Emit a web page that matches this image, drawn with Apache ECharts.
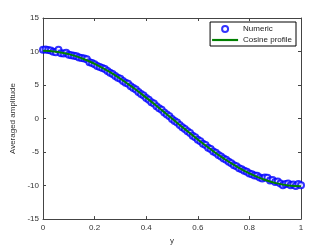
<!DOCTYPE html>
<html><head><meta charset="utf-8">
<script src="https://cdn.jsdelivr.net/npm/echarts@6/dist/echarts.min.js"></script>
<style>html,body{margin:0;padding:0;background:#fff}#c{width:332px;height:250px}</style>
</head><body><div id="c"></div>
<script>
const xTicks = [0, 0.2, 0.4, 0.6, 0.8, 1];
const yTicks = [-15, -10, -5, 0, 5, 10, 15];
const numericX = [0,0.01,0.02,0.03,0.04,0.05,0.06,0.07,0.08,0.09,0.10,0.11,0.12,0.13,0.14,0.15,0.16,0.17,0.18,0.19,0.20,0.21,0.22,0.23,0.24,0.25,0.26,0.27,0.28,0.29,0.30,0.31,0.32,0.33,0.34,0.35,0.36,0.37,0.38,0.39,0.40,0.41,0.42,0.43,0.44,0.45,0.46,0.47,0.48,0.49,0.50,0.51,0.52,0.53,0.54,0.55,0.56,0.57,0.58,0.59,0.60,0.61,0.62,0.63,0.64,0.65,0.66,0.67,0.68,0.69,0.70,0.71,0.72,0.73,0.74,0.75,0.76,0.77,0.78,0.79,0.80,0.81,0.82,0.83,0.84,0.85,0.86,0.87,0.88,0.89,0.90,0.91,0.92,0.93,0.94,0.95,0.96,0.97,0.98,0.99,1.00];
const numericY = [10.25,10.30,10.22,10.15,9.95,9.90,10.25,9.75,9.70,9.82,9.50,9.45,9.35,9.30,9.10,9.05,8.95,8.85,8.40,8.30,8.10,7.85,7.70,7.55,7.40,7.10,6.85,6.65,6.35,6.10,5.95,5.60,5.35,5.20,4.80,4.55,4.35,3.95,3.65,3.45,3.05,2.80,2.45,2.25,1.85,1.55,1.30,0.90,0.60,0.35,-0.05,-0.35,-0.60,-0.95,-1.30,-1.55,-1.90,-2.15,-2.55,-2.80,-3.15,-3.40,-3.75,-3.95,-4.35,-4.55,-4.90,-5.10,-5.45,-5.65,-5.95,-6.15,-6.45,-6.65,-6.95,-7.10,-7.40,-7.55,-7.80,-7.95,-8.20,-8.30,-8.50,-8.55,-8.80,-8.95,-8.80,-8.85,-9.25,-9.15,-9.45,-9.40,-9.70,-9.95,-9.75,-9.70,-9.95,-9.85,-10.05,-9.75,-9.95];
const cosineX = [0,0.05,0.10,0.15,0.20,0.25,0.30,0.35,0.40,0.45,0.50,0.55,0.60,0.65,0.70,0.75,0.80,0.85,0.90,0.95,1.00];
const cosineY = [10.10,9.98,9.61,9.00,8.17,7.14,5.94,4.59,3.12,1.58,0,-1.58,-3.12,-4.59,-5.94,-7.14,-8.17,-9.00,-9.61,-9.98,-10.10];

const chart = echarts.init(document.getElementById('c'), null, {renderer: 'canvas'});
const font = 'Liberation Sans, Arial, sans-serif';
const axCol = '#444';
const lblStyle = {color: '#333', fontSize: 8, fontFamily: font};
const base = {
  axisLine: {show: true, onZero: false, lineStyle: {color: axCol, width: 1}},
  axisTick: {show: true, inside: true, length: 3, lineStyle: {color: axCol}},
  splitLine: {show: false}
};
chart.setOption({
  animation: false,
  backgroundColor: '#fff',
  grid: {left: 43, right: 31, top: 18, bottom: 27, containLabel: false},
  legend: {
    orient: 'vertical', right: 36, top: 22,
    borderColor: '#000', borderWidth: 1, padding: [3, 4, 2, 2], itemGap: 3,
    itemWidth: 26, itemHeight: 6,
    textStyle: {fontSize: 8, fontFamily: font, color: '#222'},
    data: [
      {name: 'Numeric', icon: 'emptyCircle', itemStyle: {color: '#0000ff', borderColor: '#0000ff', borderWidth: 2}},
      {name: 'Cosine profile', icon: 'path://M0,0 L24,0 L24,2 L0,2 Z'}
    ]
  },
  xAxis: [
    Object.assign({type: 'value', min: 0, max: 1, interval: 0.2, position: 'bottom',
      name: 'y', nameLocation: 'middle', nameGap: 14, nameTextStyle: lblStyle,
      axisLabel: Object.assign({margin: 5, formatter: v => String(+v.toFixed(1))}, lblStyle)}, base),
    Object.assign({type: 'value', min: 0, max: 1, interval: 0.2, position: 'top',
      axisLabel: {show: false}}, base)
  ],
  yAxis: [
    Object.assign({type: 'value', min: -15, max: 15, interval: 5, position: 'left',
      name: 'Averaged amplitude', nameLocation: 'middle', nameGap: 22, nameTextStyle: lblStyle,
      axisLabel: Object.assign({margin: 4, formatter: v => String(v)}, lblStyle)}, base),
    Object.assign({type: 'value', min: -15, max: 15, interval: 5, position: 'right',
      axisLabel: {show: false}}, base)
  ],
  series: [
    {name: 'Numeric', type: 'scatter', symbol: 'emptyCircle', symbolSize: 6,
      itemStyle: {color: '#0000ff', borderColor: '#0000ff', borderWidth: 1.5},
      data: numericX.map((x, i) => [x, numericY[i]]), z: 2},
    {name: 'Cosine profile', type: 'line', smooth: true, showSymbol: false,
      lineStyle: {color: '#008000', width: 2}, itemStyle: {color: '#008000'},
      data: cosineX.map((x, i) => [x, cosineY[i]]), z: 3}
  ]
});
</script></body></html>
